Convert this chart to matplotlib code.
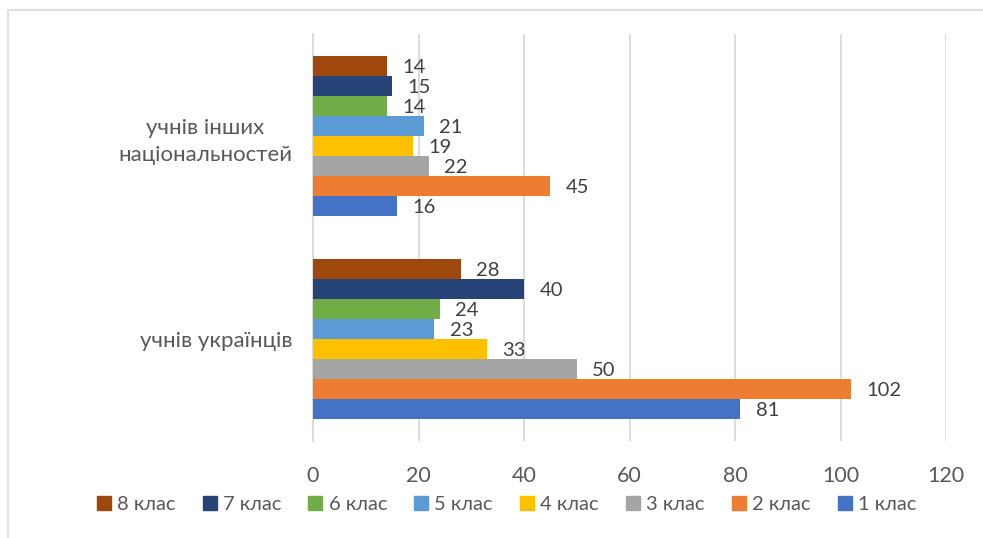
import matplotlib
matplotlib.use("Agg")
import matplotlib.pyplot as plt
from matplotlib.lines import Line2D
from matplotlib.patches import Rectangle
import numpy as np

plt.rcParams['font.family'] = ['Lato', 'DejaVu Sans']

categories = ["учнів українців", "учнів інших\nнаціональностей"]
series_names = ["1 клас", "2 клас", "3 клас", "4 клас", "5 клас", "6 клас", "7 клас", "8 клас"]
values = {
    "1 клас": [81, 16],
    "2 клас": [102, 45],
    "3 клас": [50, 22],
    "4 клас": [33, 19],
    "5 клас": [23, 21],
    "6 клас": [24, 14],
    "7 клас": [40, 15],
    "8 клас": [28, 14],
}
colors = ["#4472C4", "#ED7D31", "#A5A5A5", "#FFC000", "#5B9BD5", "#70AD47", "#264478", "#9E480E"]
xticks = [0, 20, 40, 60, 80, 100, 120]

W, H = 983, 538
fig = plt.figure(figsize=(W / 100, H / 100), dpi=100)
ax = fig.add_axes([313 / W, 1 - 441 / H, (946 - 313) / W, (441 - 34) / H])

n = len(series_names)
bh = 0.0983
y = np.arange(len(categories))
for i, (name, c) in enumerate(zip(series_names, colors)):
    off = (i - (n - 1) / 2) * bh
    bars = ax.barh(y + off, values[name], height=bh, color=c, zorder=3)
    for b, v in zip(bars, values[name]):
        ax.annotate(str(v), (v, b.get_y() + b.get_height() / 2), xytext=(11, -1),
                    textcoords="offset points", ha="left", va="center",
                    fontsize=14.5, color="#404040")

ax.set_xlim(0, 120)
ax.set_ylim(-0.5, 1.5)
ax.set_xticks(xticks)
ax.set_xticklabels([str(t) for t in xticks], fontsize=15.5, color="#595959")
ax.set_yticks(y)
ax.set_yticklabels(categories, fontsize=16, color="#595959", multialignment="center", linespacing=1.45)
ax.tick_params(axis="both", length=0)
ax.tick_params(axis="x", pad=18)
ax.tick_params(axis="y", pad=15)
ax.grid(axis="x", color="#D9D9D9", linewidth=1.3, zorder=0)
for s in ["top", "right", "bottom"]:
    ax.spines[s].set_visible(False)
ax.spines["left"].set_color("#D9D9D9")
ax.spines["left"].set_linewidth(1.3)

handles = [Line2D([0], [0], marker="s", linestyle="none", markersize=10,
                  markerfacecolor=c, markeredgecolor=c) for c in colors[::-1]]
fig.legend(handles, series_names[::-1], loc="center", bbox_to_anchor=(506 / W, 1 - 504 / H),
           ncol=8, frameon=False, fontsize=14.5, handlelength=0.8, handletextpad=0.25,
           columnspacing=1.3, labelcolor="#595959")

fig.patches.append(Rectangle((8 / W, -0.1), 1.2, 1 - 10 / H + 0.1, transform=fig.transFigure,
                             fill=False, edgecolor="#D9D9D9", linewidth=1.2))

fig.savefig("out.png", dpi=100, facecolor="white")
